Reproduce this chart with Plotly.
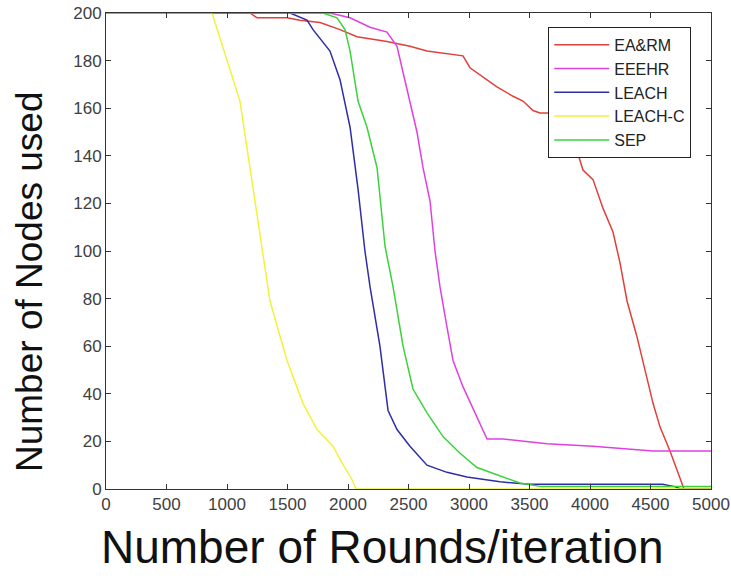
import plotly.graph_objects as go

# EA&RM (red)
earm_x = [0, 1190, 1248, 1496, 1603, 1769, 1934, 2074, 2322, 2512, 2653, 2950, 3008, 3116, 3231, 3364, 3446, 3529, 3587, 3711,
          3893, 3942, 4025, 4107, 4190, 4248, 4306, 4388, 4471, 4521, 4579, 4661, 4719, 4760, 4777, 5000]
earm_y = [200, 200, 198, 198, 197, 196, 193, 190, 188, 186, 184, 182, 177, 173, 169, 165, 163, 159, 158, 158,
          142, 134, 130, 118, 108, 95, 79, 64, 47, 36, 26, 16, 8, 2, 0, 0]

# EEEHR (magenta)
eeehr_x = [0, 1851, 2017, 2182, 2322, 2405, 2455, 2512, 2570, 2620, 2678, 2719, 2760, 2818, 2868, 2950, 3033, 3091, 3149,
           3281, 3645, 4025, 4248, 4521, 5000]
eeehr_y = [200, 200, 198, 194, 192, 186, 175, 163, 150, 135, 121, 100, 85, 68, 54, 43, 34, 28, 21,
           21, 19, 18, 17, 16, 16]

# LEACH (blue)
leach_x = [0, 1521, 1661, 1711, 1851, 1934, 2017, 2083, 2140, 2182, 2264, 2331, 2405, 2512, 2653, 2818, 2983, 3256,
           3500, 4600, 4700, 4750, 5000]
leach_y = [200, 200, 197, 193, 184, 172, 152, 126, 100, 85, 60, 33, 25, 18, 10, 7, 5, 3,
           2, 2, 1, 0, 0]

# LEACH-C (yellow)
leachc_x = [0, 876, 1107, 1231, 1289, 1355, 1496, 1628, 1744, 1876, 1950, 2033, 2066, 5000]
leachc_y = [200, 200, 163, 121, 100, 79, 54, 36, 25, 18, 11, 4, 0, 0]

# SEP (green)
sep_x = [0, 1793, 1909, 1975, 2017, 2083, 2157, 2240, 2306, 2372, 2455, 2537, 2653, 2785, 2926, 3066, 3231, 3339, 3421,
         3600, 5000]
sep_y = [200, 200, 198, 193, 184, 163, 152, 135, 102, 85, 60, 42, 32, 22, 15, 9, 6, 4, 2.5,
         1, 1]

series = [
    ("EA&RM", earm_x, earm_y, "#e0403c"),
    ("EEEHR", eeehr_x, eeehr_y, "#e040e0"),
    ("LEACH", leach_x, leach_y, "#2e2ea6"),
    ("LEACH-C", leachc_x, leachc_y, "#f2f23c"),
    ("SEP", sep_x, sep_y, "#3cd23c"),
]

x_ticks = [0, 500, 1000, 1500, 2000, 2500, 3000, 3500, 4000, 4500, 5000]
y_ticks = [0, 20, 40, 60, 80, 100, 120, 140, 160, 180, 200]

fig = go.Figure()
for name, xs, ys, col in series:
    fig.add_trace(go.Scatter(x=xs, y=ys, mode="lines", name=name,
                             line=dict(color=col, width=1.5)))

axis_common = dict(showgrid=False, zeroline=False, showline=True, linecolor="#333333", linewidth=1,
                   mirror="allticks", ticks="inside", ticklen=5, tickcolor="#333333", automargin=False,
                   tickfont=dict(family="Liberation Sans, Arial", size=17, color="#404040"))

fig.update_layout(
    width=731, height=578,
    margin=dict(l=106, r=20, t=13, b=89),
    paper_bgcolor="white", plot_bgcolor="white",
    xaxis=dict(range=[0, 5000], tickvals=x_ticks, **axis_common),
    yaxis=dict(range=[0, 200], tickvals=y_ticks, **axis_common),
    legend=dict(x=0.731, y=0.971, xanchor="left", yanchor="top",
                bordercolor="#222222", borderwidth=1, bgcolor="white",
                font=dict(family="Liberation Sans, Arial", size=16, color="#222222"),
                itemwidth=55, tracegroupgap=0),
    showlegend=True,
    annotations=[
        dict(text="Number of Rounds/iteration", xref="paper", yref="paper",
             x=(382 - 106) / 605, y=(489 - 547) / 476,
             xanchor="center", yanchor="middle", showarrow=False,
             font=dict(family="Liberation Sans, Arial", size=46, color="#111111")),
        dict(text="Number of Nodes used", xref="paper", yref="paper",
             x=(29 - 106) / 605, y=(489 - 282) / 476,
             xanchor="center", yanchor="middle", showarrow=False, textangle=-90,
             font=dict(family="Liberation Sans, Arial", size=37, color="#111111")),
    ],
)

fig.write_html("out.html")
